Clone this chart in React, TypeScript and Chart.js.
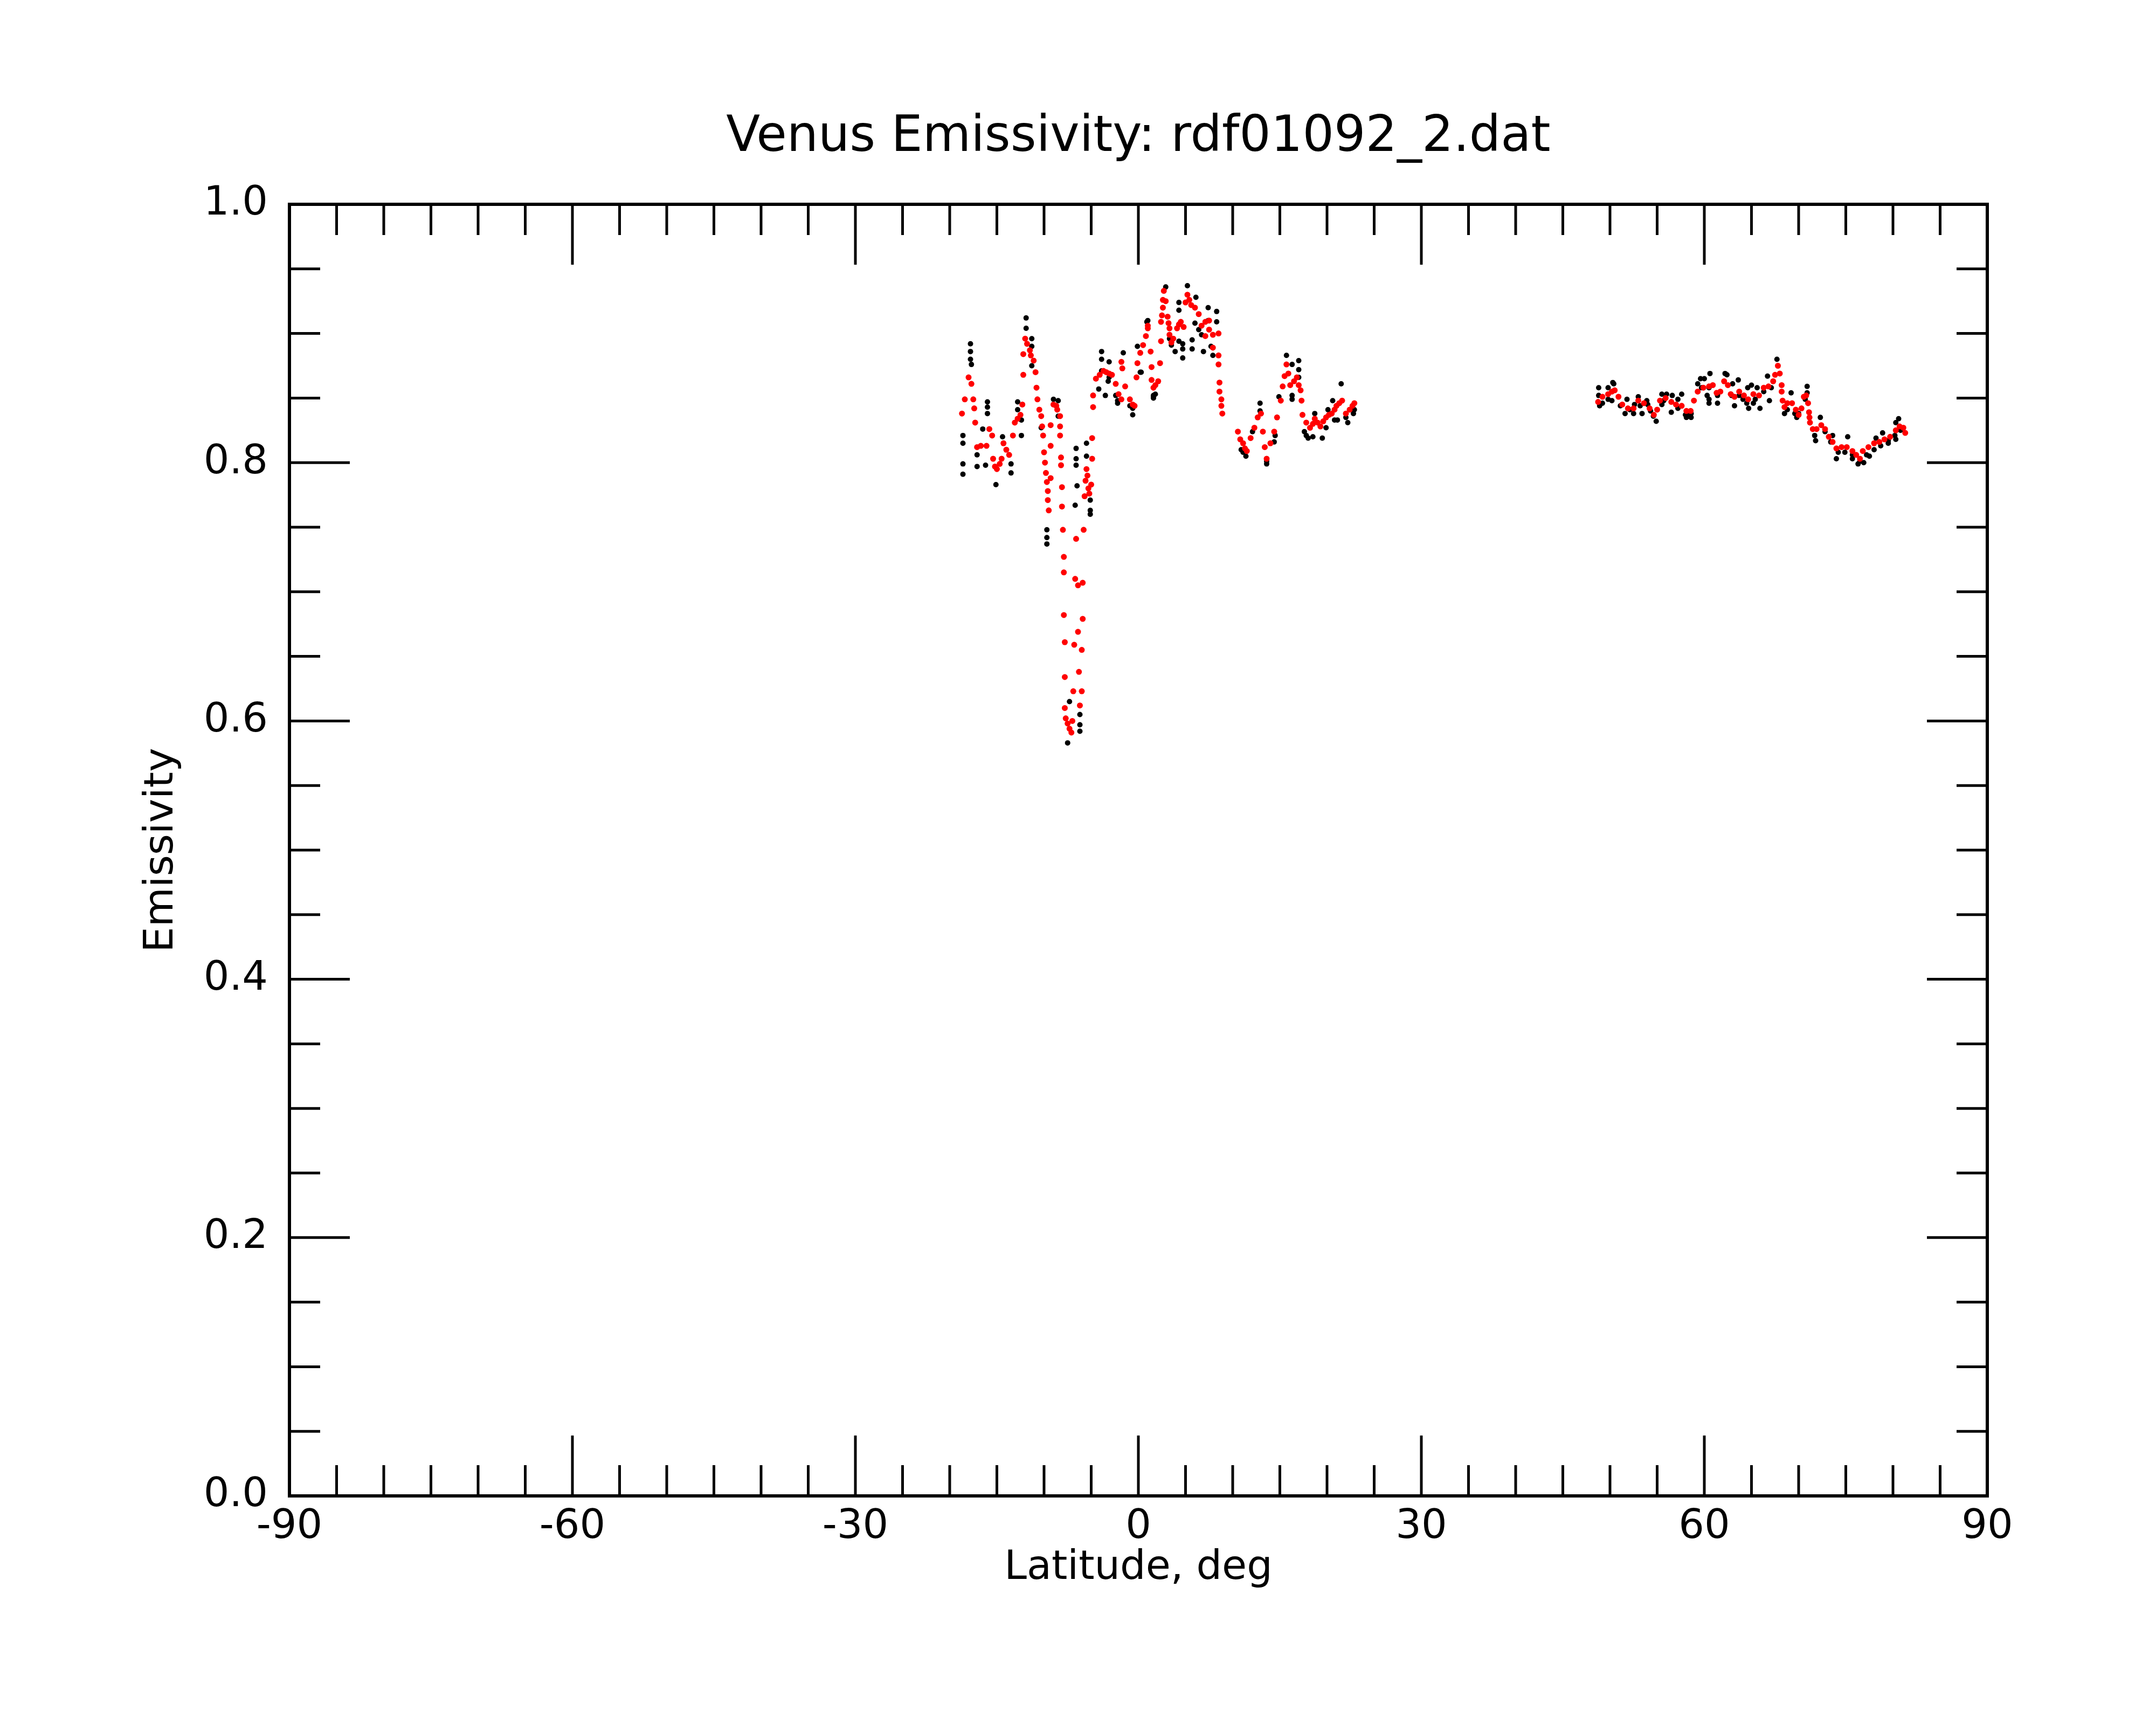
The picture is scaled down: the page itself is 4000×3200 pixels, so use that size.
import React, { useEffect, useRef } from "react";
import { Chart, registerables } from "chart.js";

Chart.register(...registerables);

const chartTitle = "Venus Emissivity: rdf01092_2.dat";
const xTitle = "Latitude, deg";
const yTitle = "Emissivity";

// [latitude, emissivity]
const redEquator: [number, number][] = [
  [-18.7, 0.838], [-18.4, 0.849], [-18.0, 0.866], [-17.7, 0.861], [-17.5, 0.849], [-17.4, 0.842], [-17.3, 0.831],
  [-17.1, 0.812], [-16.7, 0.813], [-16.1, 0.813], [-15.8, 0.826], [-15.5, 0.821], [-15.4, 0.803], [-15.2, 0.797],
  [-15.0, 0.795], [-14.7, 0.799], [-14.5, 0.803], [-14.3, 0.815], [-14.0, 0.81], [-13.7, 0.806], [-13.3, 0.821],
  [-13.1, 0.831], [-12.8, 0.834], [-12.5, 0.837], [-12.3, 0.845], [-12.2, 0.868], [-12.2, 0.884], [-12.0, 0.896],
  [-11.8, 0.892], [-11.5, 0.887], [-11.4, 0.883], [-11.1, 0.879], [-10.9, 0.87], [-10.8, 0.858], [-10.7, 0.849],
  [-10.5, 0.841], [-10.3, 0.836], [-10.2, 0.828], [-10.1, 0.821], [-10.0, 0.808], [-9.9, 0.8], [-9.8, 0.792],
  [-9.7, 0.785], [-9.6, 0.778], [-9.6, 0.771], [-9.5, 0.763], [-9.3, 0.788], [-9.3, 0.813], [-9.3, 0.829],
  [-9.0, 0.845], [-8.7, 0.844], [-8.6, 0.841], [-8.3, 0.836], [-8.3, 0.828], [-8.3, 0.821], [-8.2, 0.804],
  [-8.2, 0.798], [-8.1, 0.781], [-8.1, 0.766], [-8.0, 0.748], [-7.9, 0.727], [-7.9, 0.715], [-7.9, 0.682],
  [-7.8, 0.661], [-7.8, 0.634], [-7.8, 0.61], [-7.7, 0.602], [-7.5, 0.598], [-7.3, 0.594], [-7.1, 0.591],
  [-7.0, 0.6], [-6.9, 0.623], [-6.8, 0.659], [-6.7, 0.71], [-6.6, 0.741], [-6.4, 0.705], [-6.4, 0.669],
  [-6.3, 0.638], [-6.2, 0.612], [-6.0, 0.623], [-6.0, 0.655], [-5.9, 0.679], [-5.9, 0.707], [-5.8, 0.748],
  [-5.7, 0.774], [-5.6, 0.786], [-5.5, 0.795], [-5.4, 0.79], [-5.3, 0.78], [-5.2, 0.776], [-5.0, 0.783],
  [-4.9, 0.803], [-4.9, 0.819], [-4.8, 0.843], [-4.8, 0.852], [-4.5, 0.865], [-4.1, 0.868], [-3.7, 0.871],
  [-3.4, 0.87], [-3.1, 0.869], [-2.8, 0.868], [-2.4, 0.861], [-2.1, 0.853], [-1.8, 0.849], [-1.8, 0.878],
  [-1.7, 0.873], [-1.4, 0.859], [-0.9, 0.849], [-0.6, 0.845], [-0.4, 0.844], [-0.2, 0.866], [-0.1, 0.877],
  [0.2, 0.885], [0.5, 0.891], [0.8, 0.898], [1.0, 0.904], [1.0, 0.906], [1.3, 0.886], [1.4, 0.874],
  [1.4, 0.864], [1.6, 0.858], [1.8, 0.86], [2.1, 0.863], [2.3, 0.877], [2.4, 0.894], [2.4, 0.909],
  [2.5, 0.914], [2.6, 0.92], [2.6, 0.926], [2.7, 0.933], [2.9, 0.925], [3.1, 0.913], [3.2, 0.908],
  [3.3, 0.904], [3.3, 0.899], [3.5, 0.893], [3.7, 0.896], [4.1, 0.904], [4.3, 0.907], [4.5, 0.909],
  [4.8, 0.905], [5.0, 0.924], [5.2, 0.93], [5.4, 0.926], [5.6, 0.922], [6.0, 0.92], [6.4, 0.915],
  [6.7, 0.906], [7.1, 0.909], [7.1, 0.898], [7.5, 0.91], [7.5, 0.903], [7.9, 0.899], [7.9, 0.889],
  [8.5, 0.9], [8.5, 0.883], [8.5, 0.876], [8.6, 0.862], [8.6, 0.855], [8.8, 0.849], [8.8, 0.844], [8.9, 0.838],
  [10.55, 0.824], [10.8, 0.818], [11.1, 0.815], [11.3, 0.811], [11.5, 0.809], [11.9, 0.819], [12.3, 0.827],
  [12.65, 0.835], [13.0, 0.838], [13.2, 0.824], [13.4, 0.812], [13.6, 0.803], [14.0, 0.815], [14.4, 0.824],
  [14.7, 0.835], [15.1, 0.848], [15.3, 0.859], [15.5, 0.867], [15.7, 0.876], [15.9, 0.869], [16.1, 0.86],
  [16.5, 0.863], [16.8, 0.866], [17.0, 0.86], [17.2, 0.856], [17.3, 0.848], [17.4, 0.837], [17.8, 0.831],
  [18.2, 0.827], [18.5, 0.83], [18.7, 0.834], [19.0, 0.831], [19.3, 0.828], [19.6, 0.832], [19.9, 0.835],
  [20.2, 0.837], [20.5, 0.838], [20.8, 0.841], [21.0, 0.844], [21.3, 0.846], [21.6, 0.848], [22.0, 0.838],
  [22.4, 0.841], [22.7, 0.844], [22.9, 0.846],
];

const redNorth: [number, number][] = [
  [48.74, 0.847], [49.2, 0.851], [49.8, 0.853], [50.2, 0.855], [50.5, 0.856], [50.9, 0.851], [51.3, 0.845],
  [51.9, 0.842], [52.5, 0.842], [53.0, 0.848], [53.6, 0.846], [54.2, 0.842], [54.65, 0.837], [55.0, 0.841],
  [55.3, 0.848], [55.9, 0.85], [56.5, 0.847], [57.0, 0.845], [57.6, 0.844], [58.1, 0.84], [58.55, 0.84],
  [58.9, 0.848], [59.3, 0.855], [59.9, 0.858], [60.5, 0.859], [60.9, 0.86], [61.3, 0.854], [61.7, 0.855],
  [62.1, 0.863], [62.5, 0.86], [62.8, 0.853], [63.2, 0.851], [63.7, 0.855], [64.2, 0.852], [64.65, 0.849],
  [65.2, 0.853], [65.8, 0.852], [66.3, 0.858], [66.8, 0.859], [67.3, 0.863], [67.5, 0.868], [67.8, 0.875],
  [68.0, 0.869], [68.2, 0.86], [68.2, 0.855], [68.3, 0.848], [68.5, 0.843], [68.8, 0.846], [69.3, 0.846],
  [69.7, 0.841], [70.0, 0.837], [70.3, 0.842], [70.55, 0.851], [70.8, 0.852], [71.0, 0.846], [71.1, 0.839],
  [71.15, 0.835], [71.2, 0.831], [71.5, 0.826], [71.9, 0.826], [72.4, 0.829], [72.8, 0.826], [73.2, 0.82],
  [73.6, 0.816], [74.0, 0.811], [74.55, 0.812], [75.1, 0.812], [75.7, 0.809], [76.1, 0.806], [76.5, 0.803],
  [76.8, 0.809], [77.4, 0.812], [78.0, 0.815], [78.55, 0.816], [79.1, 0.818], [79.7, 0.82], [80.3, 0.825],
  [80.7, 0.828], [81.1, 0.827], [81.3, 0.823],
];

const blackEquator: [number, number][] = [
  [-18.6, 0.821], [-18.6, 0.815], [-18.6, 0.799], [-18.6, 0.791], [-17.8, 0.892], [-17.8, 0.886], [-17.8, 0.88],
  [-17.7, 0.876], [-17.1, 0.806], [-17.1, 0.797], [-16.5, 0.826], [-16.2, 0.798], [-16.0, 0.847], [-16.0, 0.843],
  [-16.0, 0.838], [-15.1, 0.783], [-14.4, 0.82], [-13.5, 0.799], [-13.5, 0.792], [-12.8, 0.847], [-12.8, 0.841],
  [-12.4, 0.833], [-12.4, 0.821], [-11.9, 0.912], [-11.9, 0.904], [-11.3, 0.896], [-11.3, 0.89], [-11.3, 0.875],
  [-10.3, 0.827], [-9.7, 0.748], [-9.7, 0.742], [-9.7, 0.737], [-9.0, 0.849], [-8.5, 0.848], [-8.5, 0.836],
  [-7.5, 0.583], [-7.3, 0.615], [-6.7, 0.767], [-6.6, 0.811], [-6.6, 0.803], [-6.6, 0.798], [-6.5, 0.782],
  [-6.2, 0.605], [-6.2, 0.597], [-6.2, 0.592], [-5.5, 0.815], [-5.5, 0.805], [-5.1, 0.771], [-5.1, 0.763],
  [-5.1, 0.76], [-4.2, 0.857], [-3.9, 0.886], [-3.9, 0.88], [-3.9, 0.871], [-3.5, 0.852], [-3.2, 0.863],
  [-3.1, 0.878], [-3.1, 0.866], [-2.4, 0.852], [-2.2, 0.848], [-2.2, 0.846], [-1.6, 0.885], [-0.9, 0.844],
  [-0.6, 0.837], [-0.6, 0.842], [-0.1, 0.89], [0.2, 0.87], [0.3, 0.87], [0.9, 0.909], [1.0, 0.91],
  [1.6, 0.851], [1.6, 0.85], [1.6, 0.852], [1.8, 0.853], [2.9, 0.936], [3.3, 0.896], [3.5, 0.891],
  [3.9, 0.886], [4.3, 0.924], [4.3, 0.918], [4.3, 0.894], [4.7, 0.892], [4.7, 0.881], [4.7, 0.888],
  [5.2, 0.937], [5.7, 0.888], [5.7, 0.895], [6.0, 0.908], [6.1, 0.928], [6.4, 0.915], [6.4, 0.903],
  [6.7, 0.899], [6.9, 0.886], [7.4, 0.92], [7.4, 0.91], [7.7, 0.89], [7.9, 0.883], [8.3, 0.917], [8.3, 0.909],
  [10.9, 0.81], [11.1, 0.808], [11.4, 0.805], [12.1, 0.824], [12.9, 0.846], [12.9, 0.84], [13.6, 0.799],
  [13.6, 0.801], [14.4, 0.816], [14.5, 0.821], [14.9, 0.851], [15.7, 0.883], [16.3, 0.876], [16.3, 0.849],
  [16.3, 0.852], [17.0, 0.879], [17.0, 0.872], [17.0, 0.866], [17.6, 0.824], [17.8, 0.821], [18.0, 0.819],
  [18.5, 0.82], [18.7, 0.838], [19.5, 0.819], [19.9, 0.827], [20.1, 0.841], [20.6, 0.848], [20.8, 0.833],
  [21.1, 0.833], [21.5, 0.861], [22.0, 0.835], [22.2, 0.831], [22.8, 0.838], [22.9, 0.841],
];

const blackNorth: [number, number][] = [
  [48.8, 0.858], [48.8, 0.852], [48.9, 0.844], [49.2, 0.846], [49.8, 0.858], [49.8, 0.849], [50.3, 0.862],
  [50.4, 0.861], [50.2, 0.848], [51.1, 0.844], [51.8, 0.849], [51.6, 0.838], [52.1, 0.841], [52.5, 0.838],
  [52.6, 0.845], [53.0, 0.851], [53.2, 0.844], [53.4, 0.838], [53.9, 0.848], [54.0, 0.845], [54.3, 0.84],
  [54.6, 0.836], [54.9, 0.832], [55.5, 0.853], [55.5, 0.845], [55.7, 0.848], [56.0, 0.853], [56.6, 0.852],
  [56.5, 0.839], [57.2, 0.849], [57.2, 0.842], [57.6, 0.853], [58.0, 0.837], [58.1, 0.835], [58.3, 0.837],
  [58.6, 0.835], [58.6, 0.838], [59.3, 0.861], [59.6, 0.865], [59.7, 0.858], [60.0, 0.865], [60.3, 0.852],
  [60.5, 0.858], [60.6, 0.869], [60.5, 0.849], [60.5, 0.846], [61.4, 0.846], [61.4, 0.852], [62.2, 0.869],
  [62.4, 0.868], [62.9, 0.852], [63.0, 0.861], [63.6, 0.864], [63.7, 0.852], [63.2, 0.844], [64.1, 0.849],
  [64.5, 0.846], [64.6, 0.858], [64.7, 0.842], [65.0, 0.86], [65.2, 0.846], [65.4, 0.849], [65.6, 0.858],
  [65.9, 0.842], [66.3, 0.855], [66.7, 0.867], [66.9, 0.848], [67.1, 0.858], [67.7, 0.88], [68.5, 0.838],
  [68.8, 0.841], [69.2, 0.854], [69.6, 0.838], [69.8, 0.835], [70.0, 0.838], [70.7, 0.849], [70.9, 0.859],
  [70.9, 0.854], [71.7, 0.821], [71.8, 0.817], [72.3, 0.835], [72.8, 0.824], [73.4, 0.816], [73.6, 0.821],
  [74.0, 0.803], [74.2, 0.808], [74.9, 0.808], [75.2, 0.82], [75.7, 0.803], [75.7, 0.806], [76.3, 0.799],
  [76.5, 0.801], [76.9, 0.8], [77.2, 0.806], [77.5, 0.805], [78.0, 0.81], [78.2, 0.819], [78.7, 0.813],
  [78.9, 0.823], [79.5, 0.815], [79.5, 0.817], [80.2, 0.821], [80.3, 0.818], [80.6, 0.834], [80.3, 0.831],
  [80.8, 0.825],
];

const FONT = "'DejaVu Sans', sans-serif";

const toXY = (pts: [number, number][]) => pts.map(([x, y]) => ({ x, y }));

const framePlugin = {
  id: "frameTicks",
  afterDraw(chart: any) {
    const { ctx, chartArea: a, scales } = chart;
    const xs = scales.x;
    const ys = scales.y;
    const seg = (x1: number, y1: number, x2: number, y2: number) => {
      ctx.beginPath();
      ctx.moveTo(x1, y1);
      ctx.lineTo(x2, y2);
      ctx.stroke();
    };
    ctx.save();
    ctx.strokeStyle = "#000";
    ctx.lineCap = "butt";
    ctx.lineWidth = 5;
    // inward ticks on all four sides
    for (let v = -90; v <= 90; v += 5) {
      const px = xs.getPixelForValue(v);
      const len = v % 30 === 0 ? 112 : 57;
      seg(px, a.bottom, px, a.bottom - len);
      seg(px, a.top, px, a.top + len);
    }
    for (let i = 0; i <= 20; i++) {
      const py = ys.getPixelForValue(i * 0.05);
      const len = i % 4 === 0 ? 112 : 57;
      seg(a.left, py, a.left + len, py);
      seg(a.right, py, a.right - len, py);
    }
    ctx.lineWidth = 6;
    ctx.strokeRect(a.left, a.top, a.right - a.left, a.bottom - a.top);

    ctx.fillStyle = "#000";
    ctx.textAlign = "center";
    ctx.textBaseline = "middle";
    const cx = (a.left + a.right) / 2;
    ctx.font = `92px ${FONT}`;
    ctx.fillText(chartTitle, cx, 256);
    ctx.font = `75px ${FONT}`;
    ctx.fillText(xTitle, cx, 2910);
    ctx.translate(301, (a.top + a.bottom) / 2);
    ctx.rotate(-Math.PI / 2);
    ctx.fillText(yTitle, 0, 0);
    ctx.restore();
  },
};

const App: React.FC = () => {
  const chartRef = useRef<HTMLCanvasElement | null>(null);

  useEffect(() => {
    document.body.style.margin = "0";
    if (!chartRef.current) return;
    const ctx = chartRef.current.getContext("2d");
    if (!ctx) return;

    const chart = new Chart(ctx, {
      type: "scatter",
      data: {
        datasets: [
          {
            data: [...toXY(redEquator), ...toXY(redNorth)],
            backgroundColor: "#ff0000",
            pointRadius: 5.5,
            pointBorderWidth: 0,
            order: 0,
          },
          {
            data: [...toXY(blackEquator), ...toXY(blackNorth)],
            backgroundColor: "#000000",
            pointRadius: 5,
            pointBorderWidth: 0,
            order: 1,
          },
        ],
      },
      options: {
        responsive: false,
        animation: false,
        devicePixelRatio: 1,
        events: [],
        layout: { padding: { left: 0, top: 379, right: 313, bottom: 0 } },
        plugins: {
          legend: { display: false },
          tooltip: { enabled: false },
          title: { display: false },
        },
        scales: {
          x: {
            type: "linear",
            min: -90,
            max: 90,
            grid: { display: false, drawTicks: false },
            border: { display: false },
            ticks: {
              stepSize: 30,
              padding: 14,
              maxRotation: 0,
              color: "#000",
              font: { family: FONT, size: 75 },
              callback: (v: any) => String(v),
            },
            afterFit: (s: any) => {
              s.height = 425;
            },
          },
          y: {
            min: 0,
            max: 1,
            grid: { display: false, drawTicks: false },
            border: { display: false },
            ticks: {
              stepSize: 0.2,
              padding: 40,
              color: "#000",
              font: { family: FONT, size: 75 },
              callback: (v: any) => Number(v).toFixed(1),
            },
            afterFit: (s: any) => {
              s.width = 537;
            },
          },
        },
      },
      plugins: [framePlugin],
    });

    return () => {
      chart.destroy();
    };
  }, []);

  return (
    <div style={{ width: 4000, height: 3200, background: "#fff" }}>
      <canvas ref={chartRef} width={4000} height={3200} style={{ display: "block" }}></canvas>
    </div>
  );
};

export default App;
